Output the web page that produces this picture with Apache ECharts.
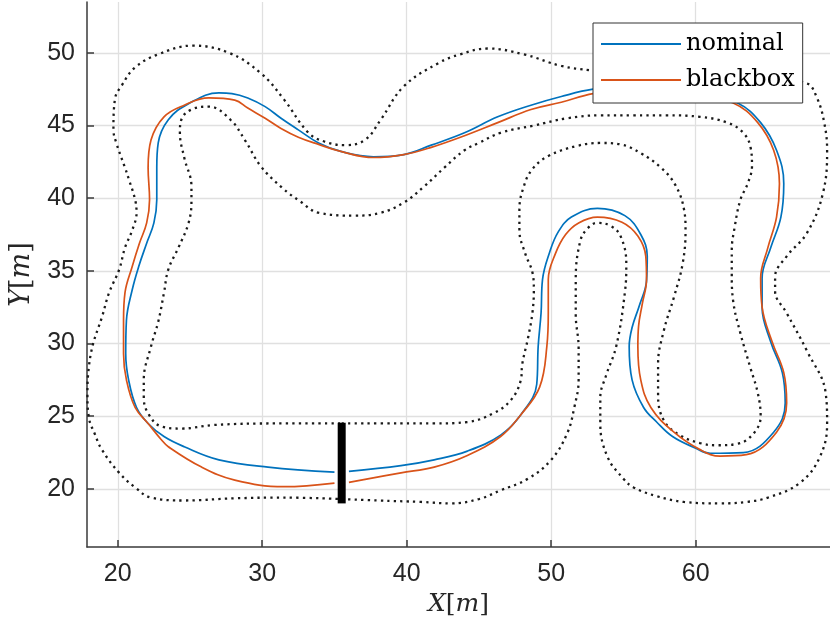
<!DOCTYPE html>
<html>
<head>
<meta charset="utf-8">
<script src="https://cdn.jsdelivr.net/npm/echarts@6/dist/echarts.min.js"></script>
<style>
  html, body { margin: 0; padding: 0; background: #fff; }
  #track { width: 830px; height: 629px; }
</style>
</head>
<body>
<div id="track"></div>
<script>
// track boundaries (dotted), [x, y] in metres
var outerBound = [
  [35.5,19.3],[38,19.2],[41,19.1],[43.1,19.0],[45,19.3],[46.5,19.9],[48.4,20.7],[50,22.0],[51.1,23.8],
  [51.6,25.6],[51.9,27.5],[51.9,29.7],[51.7,32],[51.7,34.4],[52.0,37.0],[52.5,37.9],[53.2,38.3],
  [54.1,38.1],[54.8,37.4],[55.2,35.5],[55.1,33.5],[54.5,29.8],[53.8,27.8],[53.4,26.3],[53.4,24.5],
  [53.9,22.2],[55.0,20.7],[55.7,20.1],[57.3,19.5],[59.2,19.1],[61.7,19.0],[63.5,19.1],[65,19.4],
  [67.2,20.4],[68.6,22.2],[69.1,24.5],[69.0,26.6],[67.7,29.5],[66.3,32.1],[65.5,33.6],[65.5,34.6],
  [66.3,36.0],[67.7,37.6],[68.8,40.3],[69.1,43.3],[68.9,45.2],[68.4,46.9],[67.7,47.9],[66,48.1],
  [63,48.2],[59,48.3],[55.5,48.5],[52.7,48.8],[50.7,49.1],[48.1,49.9],[45.6,50.3],[43.7,49.9],
  [42.2,49.3],[39.8,47.7],[38.2,45.4],[37.1,44.0],[35.7,43.65],[34.3,43.9],[33.2,44.5],[31.5,46.8],
  [29.9,48.6],[27.7,50.0],[25.2,50.5],[22.8,49.9],[21.2,49.0],[20.3,47.8],[19.8,46.8],[19.7,44.7],
  [19.9,43.8],[20.5,42.1],[20.8,41.2],[21.2,39.9],[21.3,39.0],[21.0,37.8],[20.5,36.6],[20.1,35.1],
  [19.4,33.5],[18.9,31.8],[18.3,30.0],[18.0,28.4],[17.9,26.6],[18.0,24.9],[18.4,23.8],[18.9,22.7],
  [20.1,21.1],[21.2,20.1],[22.3,19.4],[24.6,19.2],[28.1,19.35],[31.5,19.4],[35.5,19.3]
];
var innerBound = [
  [35.5,24.5],[39.6,24.5],[41.9,24.5],[44.2,24.6],[46.0,25.2],[47.2,26.1],[47.9,27.5],[48.0,28.6],
  [48.4,30.4],[48.7,32.1],[48.8,33.7],[48.7,34.9],[48.2,36.2],[47.8,37.8],[47.8,39.2],[48.1,40.8],
  [48.7,42.0],[49.8,42.9],[51.8,43.6],[53.4,43.8],[54.8,43.7],[56.2,43.1],[57.6,42.1],[58.6,40.9],
  [59.2,39.2],[59.3,37.8],[59.1,35.5],[58.5,33.2],[57.8,30.9],[57.4,28.6],[57.4,26.5],[57.8,24.7],
  [58.9,23.7],[60.3,23.15],[61.5,23.0],[62.9,23.1],[64.0,23.8],[64.5,25.0],[64.3,26.6],[63.8,28.3],
  [63.1,30.7],[62.6,32.9],[62.5,34.8],[62.5,36.4],[62.7,38.0],[63.1,39.9],[63.6,41.0],[63.9,42.2],
  [63.8,43.5],[63.3,44.5],[62.2,45.2],[60.3,45.6],[58,45.7],[55.7,45.7],[53.4,45.7],[51.1,45.5],
  [48.8,45.0],[46.5,44.5],[45.0,43.8],[44.0,43.3],[42.6,42.1],[41.2,40.8],[39.8,39.7],[38.2,39.0],
  [36.4,38.8],[33.9,39.0],[32.6,39.8],[31.4,40.7],[29.9,42.2],[28.8,44.0],[27.8,45.4],[26.3,46.3],
  [25.1,46.1],[24.4,45.4],[24.3,44.5],[24.6,42.8],[25.1,40.8],[25.1,39.8],[24.9,38.3],[24.2,36.6],
  [23.5,35.1],[23.2,33.5],[22.8,31.5],[22.3,29.8],[21.8,27.5],[21.8,26.3],[22.1,25.2],[23.0,24.3],
  [24.4,24.15],[26.7,24.4],[31,24.5],[35.5,24.5]
];
// driven paths
var nominal = [
  [36.0,21.2],[39.6,21.6],[41.9,22.0],[44.2,22.6],[46.5,23.7],[47.9,25.1],[49.0,27.2],[49.1,29.8],
  [49.3,32.1],[49.4,34.4],[49.9,36.3],[50.5,37.7],[51.4,38.7],[53.2,39.3],[55.1,38.8],[56.2,37.5],
  [56.65,36.0],[56.6,34.3],[56.1,32.6],[55.6,31.1],[55.4,29.8],[55.6,27.5],[56.4,25.6],[57.3,24.6],
  [58.4,23.6],[60.0,22.8],[61.0,22.45],[63.3,22.5],[65.4,23.9],[66.2,25.9],[66.0,28.0],[65.2,30.1],
  [64.6,32.5],[64.6,34.5],[65.2,36.6],[65.9,38.7],[66.1,41.0],[65.6,43.3],[64.5,45.2],[62.9,46.55],
  [59.5,47.6],[56,47.8],[52.9,47.5],[50.7,47.0],[48.6,46.4],[46.3,45.6],[44.0,44.5],[41.7,43.65],
  [39.8,43.0],[37.7,42.85],[35.5,43.2],[33.9,43.8],[32.5,44.7],[31.3,45.5],[30.2,46.3],[29.0,46.9],
  [27.9,47.2],[27.0,47.25],[24.9,46.5],[23.5,45.4],[22.8,43.8],[22.7,42.1],[22.7,39.9],[22.5,38.3],
  [22.0,36.9],[21.45,35.3],[21.0,33.7],[20.6,31.6],[20.55,29.3],[20.75,27.5],[21.3,25.6],[22.1,24.5],
  [23.2,23.6],[24.6,22.9],[27.0,22.0],[30.4,21.5],[35.0,21.15]
];
var blackbox = [
  [36.0,20.45],[39.6,21.1],[41.9,21.5],[44.2,22.3],[46.5,23.6],[47.9,25.1],[49.2,27.0],[49.7,29.8],
  [49.8,32.1],[49.8,34.4],[50.3,36.2],[51.0,37.5],[51.9,38.3],[53.2,38.7],[54.9,38.35],[56.0,37.4],
  [56.55,36.0],[56.6,34.4],[56.3,32.7],[56.05,31.2],[56.0,29.8],[56.2,27.5],[56.9,25.6],[58.5,23.9],
  [60.3,22.7],[61.7,22.25],[63.5,22.35],[65.6,23.9],[66.3,25.9],[66.1,28.0],[65.3,30.1],[64.6,32.5],
  [64.5,34.5],[65.0,36.6],[65.6,38.7],[65.8,41.0],[65.4,43.3],[64.3,45.2],[62.6,46.55],[59.5,47.3],
  [56,47.5],[52.9,47.2],[50.7,46.6],[48.6,46.1],[46.3,45.2],[44.0,44.3],[41.7,43.5],[39.8,43.0],
  [37.7,42.8],[35.5,43.2],[33.9,43.7],[32.5,44.2],[31.3,44.8],[30.2,45.5],[29.0,46.2],[28.1,46.75],
  [26.3,46.9],[24.6,46.4],[23.2,45.6],[22.3,44.0],[22.1,42.1],[22.2,39.9],[22.0,38.3],[21.5,36.9],
  [21.0,35.3],[20.5,33.5],[20.4,31.6],[20.4,29.3],[20.6,27.5],[21.2,25.6],[22.1,24.5],[23.0,23.4],
  [23.5,22.9],[25.8,21.5],[28.1,20.6],[31.5,20.15],[35.0,20.4]
];
var startLine = [[35.5,19.0],[35.5,24.55]];
var seriesNames = ['nominal','blackbox'];
var xRange = [17.87, 69.3];
var yRange = [16.0, 53.5];

var chart = echarts.init(document.getElementById('track'));
var axisColor = '#3a3a3a';
var labelStyle = { color: '#262626', fontSize: 25, fontFamily: 'Liberation Sans' };
var dotted = { color: '#1a1a1a', width: 2.3, type: [2.3, 4.2], cap: 'butt' };

var option = {
  animation: false,
  backgroundColor: '#fff',
  grid: { left: 85, right: 0, top: 2, bottom: 82, containLabel: false },
  legend: {
    data: seriesNames,
    orient: 'vertical',
    left: 593, top: 23,
    z: 10,
    padding: [9, 8, 11, 8],
    itemGap: 12,
    itemWidth: 80, itemHeight: 2,
    itemTextGap: 7,
    icon: 'rect',
    backgroundColor: '#fff',
    borderColor: '#333',
    borderWidth: 1,
    borderRadius: 0,
    textStyle: { fontFamily: 'DejaVu Serif', fontSize: 24, color: '#000', width: 112 }
  },
  xAxis: {
    type: 'value', min: xRange[0], max: xRange[1], splitNumber: 5,
    name: '{i|X}[{i|m}]', nameLocation: 'middle', nameGap: 44,
    nameTextStyle: {
      fontFamily: 'DejaVu Serif', fontSize: 25, color: '#262626',
      rich: { i: { fontFamily: 'DejaVu Serif', fontStyle: 'italic', fontSize: 25, color: '#262626' } }
    },
    axisLine: { show: true, onZero: false, lineStyle: { color: axisColor, width: 1.5 } },
    axisTick: { show: true, inside: true, length: 7, lineStyle: { color: axisColor, width: 1.5 } },
    axisLabel: Object.assign({ margin: 15, showMinLabel: false, showMaxLabel: false }, labelStyle),
    splitLine: { show: true, showMinLine: false, showMaxLine: false, lineStyle: { color: '#e0e0e0', width: 1.3 } }
  },
  yAxis: {
    type: 'value', min: yRange[0], max: yRange[1], splitNumber: 7,
    name: '{i|Y}[{i|m}]', nameLocation: 'middle', nameGap: 52, nameRotate: 90,
    nameTextStyle: {
      fontFamily: 'DejaVu Serif', fontSize: 27, color: '#262626',
      rich: { i: { fontFamily: 'DejaVu Serif', fontStyle: 'italic', fontSize: 27, color: '#262626' } }
    },
    axisLine: { show: true, onZero: false, lineStyle: { color: axisColor, width: 1.5 } },
    axisTick: { show: true, inside: true, length: 7, lineStyle: { color: axisColor, width: 1.5 } },
    axisLabel: Object.assign({ margin: 12, showMinLabel: false, showMaxLabel: false }, labelStyle),
    splitLine: { show: true, showMinLine: false, showMaxLine: false, lineStyle: { color: '#e0e0e0', width: 1.3 } }
  },
  series: [
    { name: 'outer', type: 'line', data: outerBound, smooth: 0.4, symbol: 'none', lineStyle: dotted, z: 2 },
    { name: 'inner', type: 'line', data: innerBound, smooth: 0.4, symbol: 'none', lineStyle: dotted, z: 2 },
    { name: seriesNames[0], type: 'line', data: nominal, smooth: 0.4, symbol: 'none', color: '#0072BD',
      lineStyle: { color: '#0072BD', width: 1.7 }, z: 3 },
    { name: seriesNames[1], type: 'line', data: blackbox, smooth: 0.4, symbol: 'none', color: '#D95319',
      lineStyle: { color: '#D95319', width: 1.7 }, z: 4 },
    { name: 'start', type: 'line', data: startLine, symbol: 'none',
      lineStyle: { color: '#000', width: 8, cap: 'butt' }, z: 5 }
  ]
};
chart.setOption(option);
</script>
</body>
</html>
